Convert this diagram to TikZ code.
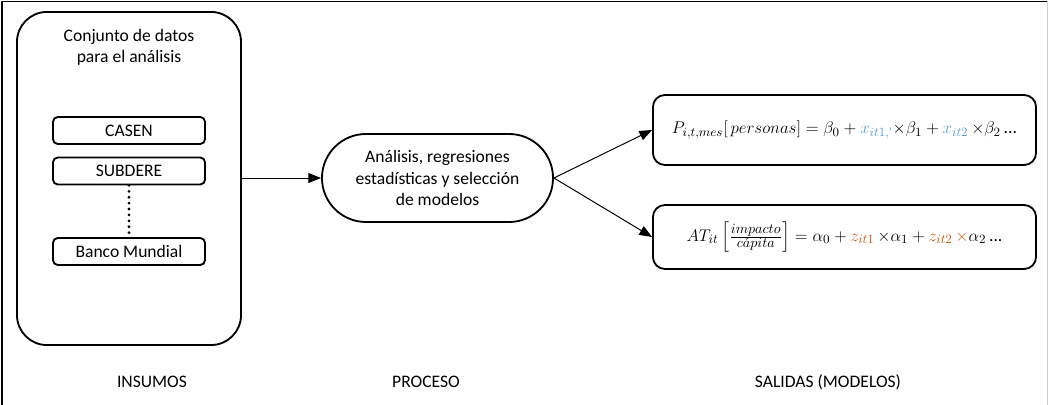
\documentclass[tikz,border=0pt]{standalone}
\usepackage{amsmath}
\usepackage{fontspec}
\setmainfont{Carlito}
\usepackage{tikz}
\usetikzlibrary{positioning}
\usetikzlibrary{calc}
\usetikzlibrary{arrows.meta}

\definecolor{xblue}{RGB}{91,155,213}
\definecolor{zorange}{RGB}{197,90,17}

\newcommand{\fracpeq}[1]{\mbox{\fontsize{10}{12}\selectfont$#1$}}

\tikzset{
  fuente/.style={draw, line width=1.3pt, rounded corners=0.12cm, minimum width=3.8cm, minimum height=0.675cm, inner sep=0pt, font=\fontsize{12.5}{15}\selectfont},
  salida/.style={draw, line width=1.3pt, rounded corners=0.3cm, minimum width=9.575cm, inner sep=0pt, font=\fontsize{12.5}{15}\selectfont},
  flecha/.style={line width=0.7pt, -{Triangle[length=9pt,width=7pt]}},
  etapa/.style={font=\fontsize{12.5}{15}\selectfont}
}

\begin{document}
\begin{tikzpicture}[x=0.025cm, y=-0.025cm]

\useasboundingbox (0,0) rectangle (1049,405);

% marco
\draw[line width=1.2pt] (2,406) -- (2,1.5) -- (1047,1.5);
\draw[line width=0.8pt, gray!40] (1047.5,1.5) -- (1047.5,406);

\coordinate (insumos) at (129,178.5);
\coordinate (proceso) at (437.5,178);

% insumos
\node[draw, line width=1.3pt, rounded corners=0.75cm, minimum width=5.6cm, minimum height=8.325cm] (datos) at (insumos) {};
\node[etapa, align=center] (titulo) at (129,47) {Conjunto de datos\\para el análisis};

\node[fuente] (casen) at (129,130.5) {CASEN};
\node[fuente] (subdere) at (129,171) {SUBDERE};
\node[fuente] (banco) at (129,251.5) {Banco Mundial};
\draw[line width=2.2pt, line cap=round, dash pattern=on 0pt off 4.2pt] (subdere.south) -- (banco.north);

% proceso
\node[draw, line width=1.3pt, rounded corners=1.1cm, minimum width=5.775cm, minimum height=2.2cm, align=center, etapa] (analisis) at (proceso) {Análisis, regresiones\\estadísticas y selección\\de modelos};

% salidas
\node[salida, minimum height=1.75cm] (modelo1) at (844.5,130) {$P_{i,t,mes}[\,personas] = \beta_0 + {\color{xblue}x_{it1,\text{'}}}{\times}\beta_1 + {\color{xblue}x_{it2}}\,{\times}\beta_2\,\text{...}$};
\node[salida, minimum height=1.6cm] (modelo2) at (844.5,237) {$AT_{it}\left[\frac{\fracpeq{impacto}}{\fracpeq{c\acute{a}pita}}\right] = \alpha_0 + {\color{zorange}z_{it1}}\,{\times}\alpha_1 + {\color{zorange}z_{it2}\,{\times}}\alpha_2\,\text{...}$};

\draw[flecha] (datos.east |- analisis.west) -- (analisis.west);
\draw[flecha] (analisis.east) -- (modelo1.west);
\draw[flecha] (analisis.east) -- (modelo2.west);

% etiquetas
\node[etapa] (lins) at (152,382) {INSUMOS};
\node[etapa] (lpro) at (426,382) {PROCESO};
\node[etapa] (lsal) at (828,382) {SALIDAS (MODELOS)};

\end{tikzpicture}
\end{document}
